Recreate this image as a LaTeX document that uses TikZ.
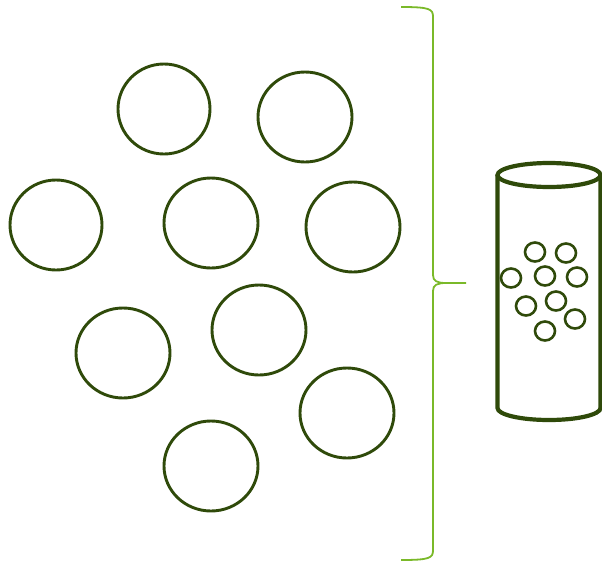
\documentclass[tikz,border=0pt]{standalone}
\usepackage{tikz}
\definecolor{dgreen}{HTML}{2F4A0A}
\definecolor{lgreen}{HTML}{7AB929}
\begin{document}
\begin{tikzpicture}[x=1pt,y=-1pt,
  big/.style={dgreen,line width=2.9pt},
  small/.style={dgreen,line width=2.6pt},
  tube/.style={dgreen,line width=4.2pt},
  brace/.style={lgreen,line width=1.8pt}]
\useasboundingbox(0,0)rectangle(602,565);
% loose particles
\draw[big](164,109)ellipse(46 and 45);
\draw[big](305,117)ellipse(47 and 45);
\draw[big](56,225)ellipse(46 and 45);
\draw[big](211,223)ellipse(47 and 45);
\draw[big](353,227)ellipse(47 and 45);
\draw[big](123,353)ellipse(47 and 45);
\draw[big](259,330)ellipse(47 and 45);
\draw[big](347,413)ellipse(47 and 45);
\draw[big](211,466)ellipse(47 and 45);
% brace
\draw[brace](401,7)..controls(430,7)and(433,9)..(433,17)--(433,275)
  ..controls(433,281)and(437,283)..(446,283)--(466,283);
\draw[brace](446,283)..controls(437,283)and(433,285)..(433,291)--(433,550)
  ..controls(433,558)and(430,560)..(401,560);
% tube
\draw[tube](549,175)ellipse(51.5 and 12);
\draw[tube](497.5,175)--(497.5,408)arc(180:0:51.5 and 12)--(600.5,175);
% packed particles
\draw[small](535,252)ellipse(10 and 9.5);
\draw[small](566,253)ellipse(10 and 9.5);
\draw[small](511,278)ellipse(10 and 9.5);
\draw[small](545,276)ellipse(10 and 9.5);
\draw[small](577,277)ellipse(10 and 9.5);
\draw[small](526,306)ellipse(10 and 9.5);
\draw[small](556,301)ellipse(10 and 9.5);
\draw[small](575,319)ellipse(10 and 9.5);
\draw[small](545,331)ellipse(10 and 9.5);
\end{tikzpicture}
\end{document}
